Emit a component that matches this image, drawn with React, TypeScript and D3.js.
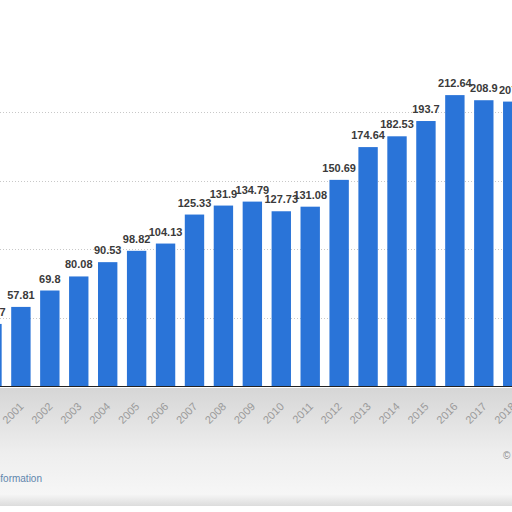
import { useEffect, useRef } from "react"
import * as d3 from "d3"

const years = [
  "2000", "2001", "2002", "2003", "2004", "2005", "2006", "2007", "2008", "2009",
  "2010", "2011", "2012", "2013", "2014", "2015", "2016", "2017", "2018",
]
const values = [
  45.37, 57.81, 69.8, 80.08, 90.53, 98.82, 104.13, 125.33, 131.9, 134.79,
  127.73, 131.08, 150.69, 174.64, 182.53, 193.7, 212.64, 208.9, 207.9,
]
const gridTicks = [50, 100, 150, 200]

export default function App() {
  const svgRef = useRef<SVGSVGElement>(null)

  useEffect(() => {
    if (!svgRef.current) return
    const svg = d3.select(svgRef.current)
    svg.selectAll("*").remove()

    const width = 512
    const baseY = 386

    const x = d3
      .scaleBand<string>()
      .domain(years)
      .range([-22.5, 527.2])
      .paddingInner(0.33)
      .paddingOuter(0.165)

    const y = d3.scaleLinear().domain([0, 250]).range([baseY, 44])

    // soft grey backdrop under the axis
    const defs = svg.append("defs")
    const grad = defs
      .append("linearGradient")
      .attr("id", "bottomFade")
      .attr("x1", 0)
      .attr("y1", 0)
      .attr("x2", 0)
      .attr("y2", 1)
    grad.append("stop").attr("offset", "0%").attr("stop-color", "#d6d6d6")
    grad.append("stop").attr("offset", "55%").attr("stop-color", "#eeeeee")
    grad.append("stop").attr("offset", "90%").attr("stop-color", "#f6f6f6")
    grad.append("stop").attr("offset", "100%").attr("stop-color", "#dcdcdc")

    svg.append("rect").attr("width", width).attr("height", 512).attr("fill", "#fff")
    svg
      .append("rect")
      .attr("x", 0)
      .attr("y", baseY + 2)
      .attr("width", width)
      .attr("height", 118)
      .attr("fill", "url(#bottomFade)")

    // grid lines
    svg
      .append("g")
      .selectAll("line")
      .data(gridTicks)
      .join("line")
      .attr("x1", 0)
      .attr("x2", width)
      .attr("y1", (d) => Math.round(y(d)) + 0.5)
      .attr("y2", (d) => Math.round(y(d)) + 0.5)
      .attr("stroke", "#c8c8c8")
      .attr("stroke-dasharray", "1,2")

    // bars
    svg
      .append("g")
      .selectAll("rect")
      .data(values)
      .join("rect")
      .attr("x", (_, i) => x(years[i])!)
      .attr("y", (d) => y(d))
      .attr("width", x.bandwidth())
      .attr("height", (d) => baseY - y(d))
      .attr("fill", "#2a74d8")

    // value labels
    svg
      .append("g")
      .selectAll("text")
      .data(values)
      .join("text")
      .attr("x", (_, i) => x(years[i])! + x.bandwidth() / 2)
      .attr("y", (d) => y(d) - 8)
      .attr("text-anchor", "middle")
      .attr("font-family", "'Liberation Sans', Arial, sans-serif")
      .attr("font-size", 11)
      .attr("font-weight", "bold")
      .attr("fill", "#3a3a3a")
      .text((d) => String(d))

    // baseline
    svg
      .append("line")
      .attr("x1", 0)
      .attr("x2", width)
      .attr("y1", baseY + 0.5)
      .attr("y2", baseY + 0.5)
      .attr("stroke", "#222")
      .attr("stroke-width", 1)

    // x axis labels
    const xAxis = svg
      .append("g")
      .attr("transform", `translate(0, ${baseY + 13})`)
      .call(d3.axisBottom(x).tickSize(0).tickPadding(0))
    xAxis.select(".domain").remove()
    xAxis
      .selectAll("text")
      .attr("y", 0)
      .attr("transform", "rotate(-45)")
      .attr("text-anchor", "end")
      .attr("dx", "-0.3em")
      .attr("dy", "0.75em")
      .attr("font-family", "'Liberation Sans', Arial, sans-serif")
      .attr("font-size", 11)
      .attr("fill", "#9a9a9a")

    // footer link
    svg
      .append("text")
      .attr("x", 42)
      .attr("y", 482)
      .attr("text-anchor", "end")
      .attr("font-family", "'Liberation Sans', Arial, sans-serif")
      .attr("font-size", 10)
      .attr("fill", "#5f86ad")
      .text("Additional Information")

    svg
      .append("text")
      .attr("x", 503)
      .attr("y", 459)
      .attr("font-family", "'Liberation Sans', Arial, sans-serif")
      .attr("font-size", 10)
      .attr("fill", "#888")
      .text("©")
  }, [])

  return (
    <svg
      ref={svgRef}
      width={512}
      height={512}
      style={{ position: "absolute", left: 0, top: 0, display: "block" }}
    />
  )
}
